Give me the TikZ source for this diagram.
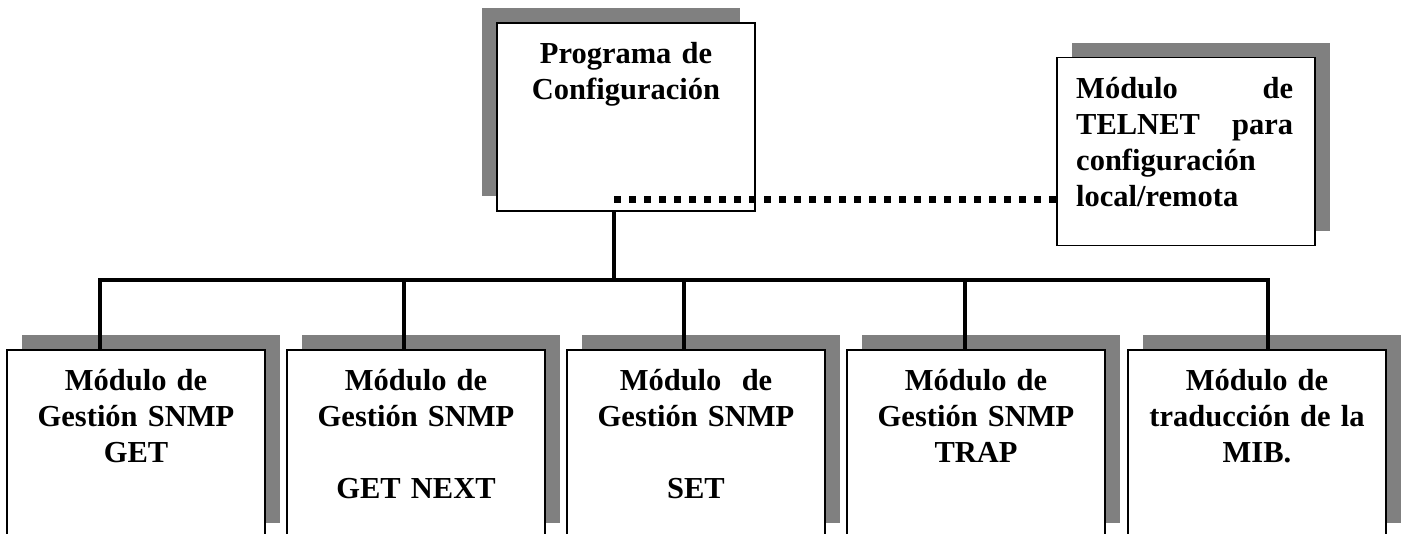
\documentclass[tikz,border=0pt]{standalone}
\usepackage{fontspec}
\setmainfont{Liberation Serif}
\usetikzlibrary{shadows}
\definecolor{shadowgray}{HTML}{808080}
\begin{document}
\begin{tikzpicture}[x=1pt,y=-1pt,
  box/.style={draw=black, line width=1.5pt, fill=white, minimum width=258pt, minimum height=188pt, inner sep=0pt, outer sep=0pt},
  shadowR/.style={drop shadow={shadow xshift=15pt, shadow yshift=15pt, fill=shadowgray, opacity=1}},
  shadowL/.style={drop shadow={shadow xshift=-15pt, shadow yshift=15pt, fill=shadowgray, opacity=1}},
  lbl/.style={anchor=base, text width=258pt, align=center, inner sep=0pt, font=\fontsize{30.5}{36}\selectfont\bfseries},
  conn/.style={line width=4pt},
  dots/.style={line width=7pt, dash pattern=on 7pt off 8pt}]
\useasboundingbox (0,0) rectangle (1404,533);
\clip (0,0) rectangle (1404,533);
% boxes
\node[box, shadowL] (top) at (626,117) {};
\node[box, shadowR] (tel) at (1186,151.5) {};
\node[box, shadowR] (b1) at (136,444) {};
\node[box, shadowR] (b2) at (416,444) {};
\node[box, shadowR] (b3) at (696,444) {};
\node[box, shadowR] (b4) at (976,444) {};
\node[box, shadowR] (b5) at (1257,444) {};
% texts
\node[lbl] (ttop) at (626,63) {Programa de\\Configuración};
\node[lbl, anchor=base west, text width=217pt, align=left] (ttel) at (1076,98) {Módulo\hfill de\\TELNET\hfill para\\configuración\\local/remota};
\node[lbl] (t1) at (136,390) {Módulo de\\Gestión SNMP\\GET};
\node[lbl] (t2) at (416,390) {Módulo de\\Gestión SNMP\\[36pt]GET NEXT};
\node[lbl] (t3) at (696,390) {Módulo\ \ de\\Gestión SNMP\\[36pt]SET};
\node[lbl] (t4) at (976,390) {Módulo de\\Gestión SNMP\\TRAP};
\node[lbl] (t5) at (1257,390) {Módulo de\\traducción de la\\MIB.};
% connectors
\coordinate (hub) at (614,280);
\coordinate (j1) at (100,280);
\coordinate (j2) at (404,280);
\coordinate (j3) at (684,280);
\coordinate (j4) at (965,280);
\coordinate (j5) at (1268,280);
\coordinate (d0) at (614,199);
\draw[conn] (top.south -| hub) -- (hub);
\draw[conn] (b1.north -| j1) -- (j1) -- (j5) -- (b5.north -| j5);
\draw[conn] (j2) -- (b2.north -| j2);
\draw[conn] (j3) -- (b3.north -| j3);
\draw[conn] (j4) -- (b4.north -| j4);
\draw[dots] (d0) -- (d0 -| tel.west);
\end{tikzpicture}
\end{document}
